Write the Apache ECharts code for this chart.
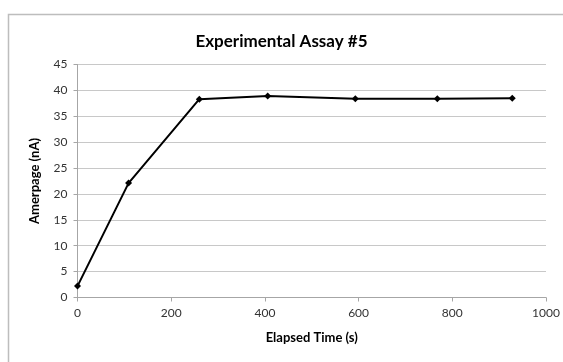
<!DOCTYPE html>
<html><head><meta charset="utf-8">
<script src="https://cdn.jsdelivr.net/npm/echarts@6/dist/echarts.min.js"></script>
<style>html,body{margin:0;padding:0;background:#fff}#c{width:563px;height:362px}</style>
</head><body><div id="c"></div>
<script>
var times = [0, 109, 260, 406, 593, 768, 928];
var amperage = [2.2, 22.1, 38.3, 38.9, 38.4, 38.4, 38.5];
var titleText = 'Experimental Assay #5';
var xName = 'Elapsed Time (s)';
var yName = 'Amerpage (nA)';

var chart = echarts.init(document.getElementById('c'));
var font = 'Lato, "Open Sans", sans-serif';
chart.setOption({
  animation: false,
  backgroundColor: '#fff',
  graphic: [{type: 'rect', shape: {x: 8.5, y: 14.5, width: 600, height: 400}, style: {fill: 'none', stroke: '#bdbdbd', lineWidth: 1.5}, z: -1}],
  title: {text: titleText, left: 'center', top: 28, textStyle: {fontFamily: font, fontWeight: 'bold', fontSize: 17, color: '#000'}},
  grid: {left: 77.5, right: 17, top: 64.5, bottom: 64.5},
  xAxis: {
    type: 'value', min: 0, max: 1000, interval: 200,
    name: xName, nameLocation: 'middle', nameGap: 34,
    nameTextStyle: {fontFamily: font, fontWeight: 'bold', fontSize: 13, color: '#000'},
    axisLine: {lineStyle: {color: '#a6a6a6'}},
    axisTick: {show: true, length: 4, lineStyle: {color: '#a6a6a6'}},
    axisLabel: {fontFamily: font, fontSize: 12, color: '#333', margin: 10, formatter: function (v) { return String(v); }},
    splitLine: {show: false}
  },
  yAxis: {
    type: 'value', min: 0, max: 45, interval: 5,
    name: yName, nameLocation: 'middle', nameGap: 36, nameRotate: 90,
    nameTextStyle: {fontFamily: font, fontWeight: 'bold', fontSize: 13, color: '#000'},
    axisLine: {show: true, lineStyle: {color: '#a6a6a6'}},
    axisTick: {show: true, length: 4, lineStyle: {color: '#a6a6a6'}},
    axisLabel: {fontFamily: font, fontSize: 12, color: '#333', margin: 10},
    splitLine: {lineStyle: {color: '#c8c8c8', width: 1}}
  },
  series: [{
    type: 'line',
    data: times.map(function (t, i) { return [t, amperage[i]]; }),
    symbol: 'diamond', symbolSize: 7,
    itemStyle: {color: '#000'},
    lineStyle: {color: '#000', width: 2}
  }]
});
</script></body></html>
